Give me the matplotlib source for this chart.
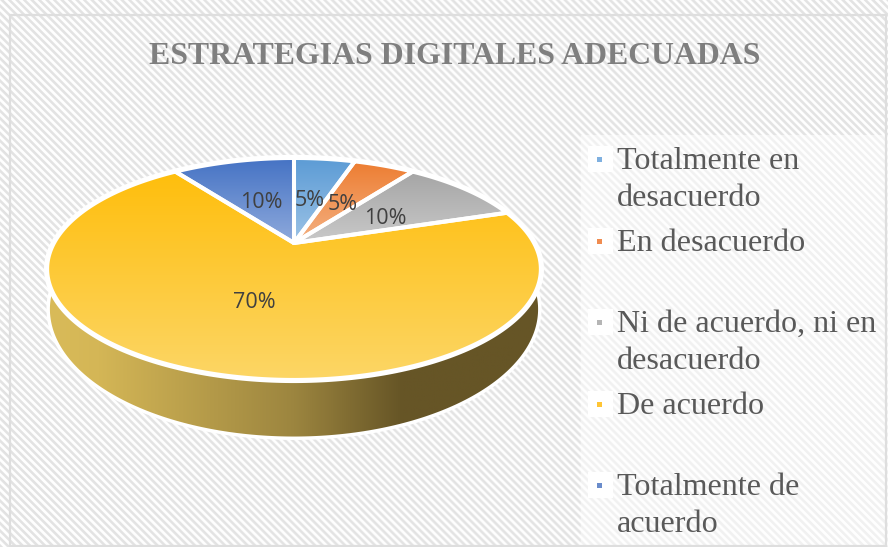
import numpy as np
import matplotlib
matplotlib.use("Agg")
import matplotlib.pyplot as plt
from matplotlib.patches import Polygon, Rectangle
from matplotlib.colors import LinearSegmentedColormap
from matplotlib.transforms import Affine2D

title = "ESTRATEGIAS DIGITALES ADECUADAS"
categories = ["Totalmente en desacuerdo", "En desacuerdo", "Ni de acuerdo, ni en desacuerdo",
              "De acuerdo", "Totalmente de acuerdo"]
legend_lines = [["Totalmente en", "desacuerdo"], ["En desacuerdo"],
                ["Ni de acuerdo, ni en", "desacuerdo"], ["De acuerdo"],
                ["Totalmente de", "acuerdo"]]
values = [5, 5, 10, 70, 10]
value_labels = ["5%", "5%", "10%", "70%", "10%"]
top_colors = ["#5B9BD5", "#ED7D31", "#A5A5A5", "#FFBE0C", "#4472C4"]
low_colors = ["#9DC3E6", "#F4B183", "#C9C9C9", "#FCD666", "#8FAADC"]
legend_colors = ["#7FB0E0", "#F08C50", "#B5B5B5", "#FFC535", "#6A8CCB"]

W, H = 888, 547
fig = plt.figure(figsize=(W / 100, H / 100), dpi=100, facecolor="white")
ax = fig.add_axes([0, 0, 1, 1])

wedges, _ = ax.pie(values, startangle=90, counterclock=False, radius=1)
unit_polys = [w.get_path().transformed(Affine2D().scale(2000)).to_polygons(closed_only=False)[0] / 2000
              for w in wedges]
for w in wedges:
    w.remove()
ax.set_aspect("auto")
ax.set_xlim(0, W)
ax.set_ylim(H, 0)
ax.axis("off")

# striped chart background
yy, xx = np.mgrid[0:H, 0:W]
stripe = np.clip(0.5 + 0.9 * np.sin(2 * np.pi * (xx - yy) / 7.5), 0, 1)
bg = 1 - stripe * (1 - 0.89)
legend_area = (xx >= 580) & (yy >= 135)
bg[legend_area] = 1 - (1 - bg[legend_area]) * 0.5
ax.imshow(bg, cmap="gray", vmin=0, vmax=1, extent=(0, W, H, 0), aspect="auto", zorder=0,
          clip_path=Rectangle((10, 14.5), 876, 531, transform=ax.transData), interpolation="bilinear")
ax.add_patch(Rectangle((10, 14.5), 876, 531, fc="none", ec="#DEDEDE", lw=1.6, zorder=1))

K = 0.234
CX = 294


def project(pts, a, b, yc):
    """Tilted-disc projection of unit-circle points to picture coordinates."""
    x, y = pts[:, 0], pts[:, 1]
    w = 1 + K * y
    return np.column_stack([CX + a * x / w, yc - b * y / w])


# side wall of the pie
t = np.linspace(0, 2 * np.pi, 400)
circle = np.column_stack([np.sin(t), np.cos(t)])
base = project(circle, 239, 122, 279)
side_cmap = LinearSegmentedColormap.from_list(
    "side", [(0, "#D9BB59"), (0.1, "#D4B656"), (0.5, "#9C853F"), (0.72, "#665526"), (1, "#665526")])
ax.add_patch(Polygon(base, closed=True, fc="none", ec="white", lw=2.5, zorder=3))
g = np.linspace(0, 1, 256).reshape(1, -1)
im = ax.imshow(g, cmap=side_cmap, extent=(49, 539, 445, 250), aspect="auto", zorder=2)
im.set_clip_path(Polygon(base, closed=True, transform=ax.transData))

# top surface
full_top = project(circle, 240, 104.9, 243)
ax.add_patch(Polygon(full_top, closed=True, fc="white", ec="white", lw=4.5, zorder=4))
for poly, c0, c1 in zip(unit_polys, top_colors, low_colors):
    pts = project(poly, 240, 104.9, 243)
    x0, x1, y0, y1 = pts[:, 0].min(), pts[:, 0].max(), pts[:, 1].min(), pts[:, 1].max()
    cmap = LinearSegmentedColormap.from_list("w", [c0, c1])
    im = ax.imshow(np.linspace(0, 1, 256).reshape(-1, 1), cmap=cmap, extent=(x0, x1, y1, y0),
                   aspect="auto", zorder=5)
    im.set_clip_path(Polygon(pts, closed=True, transform=ax.transData))
    ax.add_patch(Polygon(pts, closed=True, fc="none", ec="white", lw=2.9, joinstyle="round", zorder=6))
ax.set_xlim(0, W)
ax.set_ylim(H, 0)

# data labels
label_xy = [(310, 201), (342.5, 204), (385, 219), (254, 303), (261, 202)]
for (lx, ly), s in zip(label_xy, value_labels):
    ax.text(lx, ly, s, ha="center", va="center", fontsize=15.5, family="Open Sans", color="#404040", zorder=8)

# title
ax.text(455, 64, title, ha="center", va="baseline", fontsize=22.9, fontweight="bold",
        family="Liberation Serif", color="#7F7F7F", zorder=8)

# legend
marker_y = [159, 241, 322, 404, 485]
for my, c, lines in zip(marker_y, legend_colors, legend_lines):
    ax.add_patch(Rectangle((588, my - 13), 25, 26, fc="white", ec="none", zorder=7))
    ax.add_patch(Rectangle((596.5, my - 2.5), 5.5, 5.5, fc=c, ec="none", zorder=8))
    for i, line in enumerate(lines):
        ax.text(617, my + 10 + 37 * i, line, ha="left", va="baseline", fontsize=23.1,
                family="Liberation Serif", color="#595959", zorder=8)

fig.savefig("out.png", dpi=100)
